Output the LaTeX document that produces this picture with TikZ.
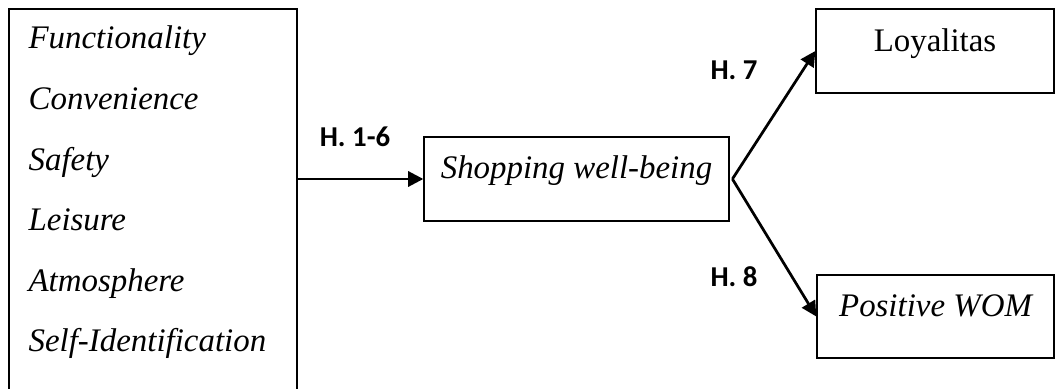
\documentclass[tikz,border=0pt]{standalone}
\usepackage{fontspec}
\setmainfont{Liberation Serif}
\newfontfamily\labelfont{Carlito}
\usepackage{tikz}
\usetikzlibrary{arrows.meta, positioning, calc}
\tikzstyle{box} = [
  rectangle, draw=black, line width=0.5pt,
  inner sep=0pt, text height=0.25cm, text depth=0.25cm,
  font=\fontsize{12}{14}\selectfont
]
\tikzstyle{factor} = [
  anchor=base west, inner sep=0pt,
  font=\fontsize{12}{14}\selectfont\itshape
]
\tikzstyle{hyp} = [
  inner sep=0pt, font=\fontsize{10.5}{12}\selectfont\labelfont\bfseries
]
\tikzstyle{arrow} = [-{Triangle[length=5.5pt, width=5.5pt]}, line width=1pt]

\begin{document}
\begin{tikzpicture}
  \useasboundingbox (0,0) rectangle (13.526,-4.987);

  % Antecedents
  \node[box, minimum width=3.692cm, minimum height=4.949cm] (factors) at (1.962,-2.590) {};
  \foreach \name [count=\i] in {Functionality, Convenience, Safety, Leisure, Atmosphere, Self-Identification}
    \node[factor] (f\i) at (0.36,{-0.628-0.776*(\i-1)}) {\name};

  % Mediator
  \node[box, minimum width=3.91cm, minimum height=1.077cm] (wellbeing) at (7.391,-2.295) {\itshape Shopping well-being};

  % Outcomes
  \node[box, minimum width=3.05cm, minimum height=1.077cm] (loyal) at (11.987,-0.654) {Loyalitas};
  \node[box, minimum width=3.04cm, minimum height=1.064cm] (wom) at (11.994,-4.058) {\itshape Positive WOM};

  % Hypotheses
  \node[hyp] (h16) at (4.551,-1.756) {H. 1-6};
  \node[hyp] (h7) at (9.410,-0.897) {H. 7};
  \node[hyp] (h8) at (9.410,-3.551) {H. 8};

  % Connections
  \coordinate (split) at ([xshift=1pt]wellbeing.east);
  \draw[arrow] (factors.east |- wellbeing.west) -- (wellbeing.west);
  \draw[arrow] (split) -- (loyal.west);
  \draw[arrow] (split) -- (wom.west);

\end{tikzpicture}
\end{document}
